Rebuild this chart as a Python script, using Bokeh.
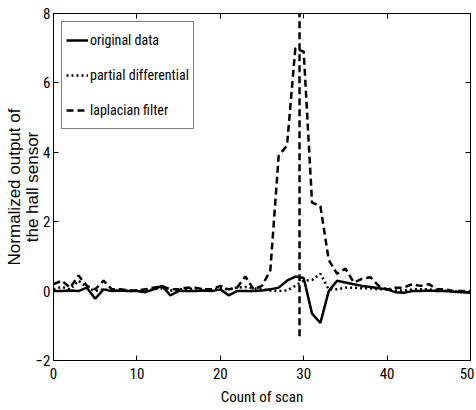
from bokeh.plotting import figure
from bokeh.models import Range1d, FixedTicker, LinearAxis, Legend, LegendItem
from bokeh.embed import file_html
from bokeh.resources import INLINE

scan = list(range(0, 51))
original_data = [0.0, 0.0, 0.02, 0.0, 0.1, -0.22, 0.05, 0.0, 0.02, 0.0,
                 0.0, -0.03, 0.05, 0.15, -0.12, 0.0, 0.0, 0.0, 0.02, 0.0,
                 0.05, -0.12, 0.0, 0.0, 0.0, 0.02, 0.05, 0.1, 0.3, 0.42,
                 0.38, -0.65, -0.92, 0.0, 0.3, 0.25, 0.2, 0.15, 0.12, 0.08,
                 0.05, -0.03, -0.05, 0.0, 0.0, 0.02, 0.0, 0.0, -0.02, -0.03, -0.05]
partial_differential = [0.05, 0.12, 0.05, 0.3, 0.1, 0.0, 0.05, 0.02, 0.02, 0.0,
                        0.02, 0.02, 0.05, 0.08, 0.02, 0.05, 0.05, 0.08, 0.05, 0.05,
                        0.08, 0.05, 0.1, 0.12, 0.08, 0.05, 0.02, 0.0, 0.02, 0.15,
                        0.3, 0.32, 0.5, 0.05, 0.05, 0.1, 0.1, 0.08, 0.08, 0.05,
                        0.05, 0.02, 0.02, 0.05, 0.05, 0.05, 0.02, 0.0, 0.0, -0.02, -0.03]
laplacian_filter = [0.2, 0.3, 0.1, 0.45, 0.15, 0.05, 0.3, 0.05, 0.05, 0.02,
                    0.02, 0.05, 0.1, 0.15, 0.05, 0.05, 0.1, 0.1, 0.05, 0.05,
                    0.15, 0.05, 0.1, 0.42, 0.05, 0.15, 0.6, 3.9, 4.2, 7.0,
                    6.9, 2.55, 2.45, 0.9, 0.5, 0.65, 0.25, 0.35, 0.4, 0.15,
                    0.05, 0.1, 0.1, 0.2, 0.15, 0.2, 0.05, 0.05, 0.0, 0.0, 0.0]
marker_x = [29.5, 29.5]
marker_y = [-1.3, 8.3]

x_ticks = [0, 10, 20, 30, 40, 50]
y_ticks = [-2, 0, 2, 4, 6, 8]

FONT = "Roboto Condensed"

p = figure(width=474, height=408, output_backend="svg", toolbar_location=None,
           x_range=Range1d(0, 50), y_range=Range1d(-2, 8),
           min_border_left=53, min_border_right=4, min_border_top=13, min_border_bottom=48)
p.xgrid.visible = False
p.ygrid.visible = False
p.outline_line_color = "black"
p.outline_line_width = 1
p.background_fill_color = "white"
p.border_fill_color = "white"

r1 = p.line(scan, original_data, line_color="black", line_width=2.5)
r2 = p.line(scan, partial_differential, line_color="black", line_width=2.5, line_dash="2 3")
r3 = p.line(scan, laplacian_filter, line_color="black", line_width=2.5, line_dash="7 4")
p.line(marker_x, marker_y, line_color="black", line_width=2.5, line_dash="7 4")

def style(ax):
    ax.major_tick_in = 5
    ax.major_tick_out = 0
    ax.minor_tick_in = 0
    ax.minor_tick_out = 0
    ax.axis_line_color = "black"
    ax.major_tick_line_color = "black"
    ax.major_label_text_font = FONT
    ax.major_label_text_font_size = "15px"
    ax.major_label_text_color = "black"

for ax in p.xaxis:
    ax.ticker = FixedTicker(ticks=x_ticks)
    style(ax)
    ax.major_label_standoff = 7
    ax.axis_label = "Count of scan"
    ax.axis_label_text_font = FONT
    ax.axis_label_text_font_size = "15px"
    ax.axis_label_text_font_style = "normal"
    ax.axis_label_text_color = "black"
    ax.axis_label_standoff = 6
for ax in p.yaxis:
    ax.ticker = FixedTicker(ticks=y_ticks)
    style(ax)
    ax.major_label_standoff = 3
    ax.axis_label = "Normalized output of\nthe hall sensor"
    ax.axis_label_text_font = "Liberation Sans"
    ax.axis_label_text_font_size = "17px"
    ax.axis_label_text_line_height = 0.95
    ax.axis_label_text_font_style = "normal"
    ax.axis_label_text_color = "black"
    ax.axis_label_standoff = -9

top = LinearAxis(ticker=FixedTicker(ticks=x_ticks))
style(top)
top.major_label_overrides = {t: "" for t in x_ticks}
top.major_label_standoff = 0
p.add_layout(top, "above")
right = LinearAxis(ticker=FixedTicker(ticks=y_ticks))
style(right)
right.major_label_overrides = {t: "" for t in y_ticks}
right.major_label_standoff = 0
p.add_layout(right, "right")

legend = Legend(items=[
    LegendItem(label="original data", renderers=[r1]),
    LegendItem(label="partial differential", renderers=[r2]),
    LegendItem(label="laplacian filter", renderers=[r3]),
], location="top_left")
legend.margin = 8
legend.padding = 4
legend.spacing = 7
legend.label_height = 28
legend.glyph_height = 28
legend.glyph_width = 22
legend.label_standoff = 2
legend.label_text_font = FONT
legend.label_text_font_size = "14px"
legend.label_text_color = "black"
legend.border_line_color = "black"
legend.border_line_width = 1
legend.background_fill_alpha = 1
p.add_layout(legend, "center")

open("out.html", "w").write(file_html(p, INLINE))
